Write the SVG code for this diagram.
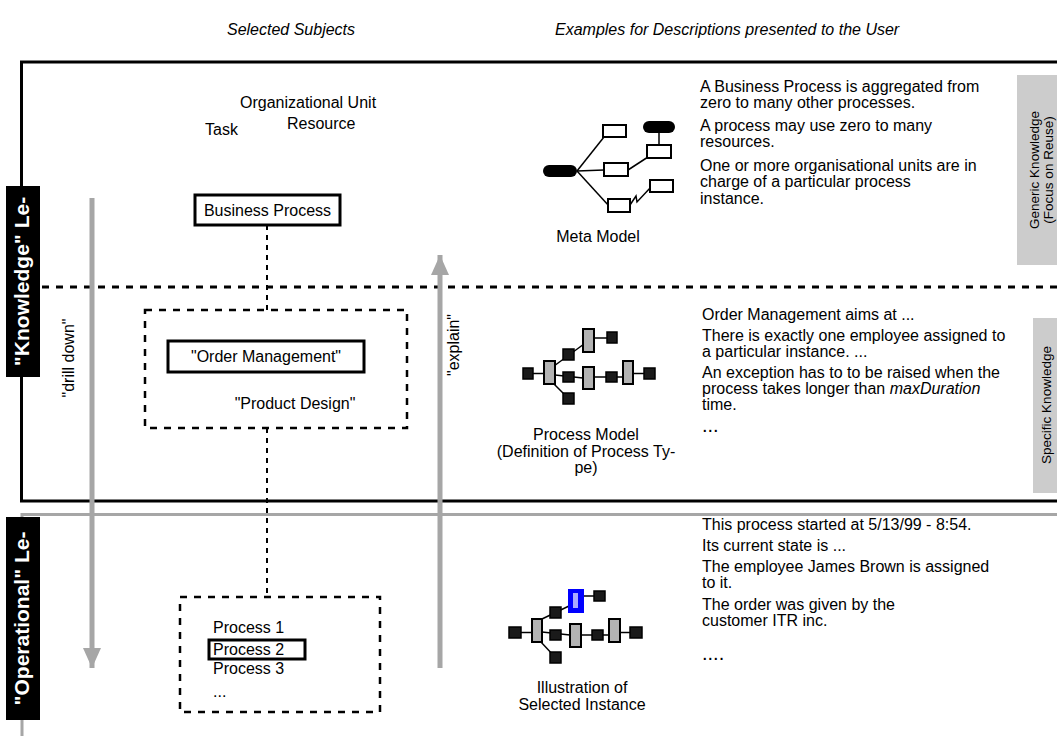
<svg xmlns="http://www.w3.org/2000/svg" width="1057" height="736" viewBox="0 0 1057 736">
  <style>
    .t { font-family: "Liberation Sans", Arial, sans-serif; font-size: 16px; fill: #000; }
    .hdr { font-style: italic; }
    .lbl { font-family: "Liberation Sans", Arial, sans-serif; font-size: 21px; font-weight: bold; fill: #fff; }
    .side { font-family: "Liberation Sans", Arial, sans-serif; font-size: 13.5px; fill: #000; }
    .dots { font-family: "Liberation Sans", Arial, sans-serif; font-size: 20px; fill: #000; }
    .frame { stroke: #000; stroke-width: 3; fill: none; }
    .sep { stroke: #000; stroke-width: 3; stroke-dasharray: 7 7; fill: none; }
    .gline { stroke: #a6a6a6; stroke-width: 3; fill: none; }
    .box { fill: #fff; stroke: #000; stroke-width: 3; }
    .dash { fill: none; stroke: #000; stroke-width: 2.5; stroke-dasharray: 7 7; }
    .conn { stroke: #000; stroke-width: 2; stroke-dasharray: 5 5; fill: none; }
    .garrow { stroke: #a6a6a6; stroke-width: 5; fill: none; marker-end: url(#gh); }
    .mbox { fill: #fff; stroke: #000; stroke-width: 2; }
    .sq { fill: #1a1a1a; stroke: #000; stroke-width: 1.5; }
    .bar { fill: #b3b3b3; stroke: #000; stroke-width: 2; }
    .ln { stroke: #000; stroke-width: 1.5; fill: none; }
    .tab { fill: #cccccc; }
  </style>
  <defs>
    <marker id="gh" viewBox="0 0 20 18" refX="20" refY="9" markerWidth="20" markerHeight="18" markerUnits="userSpaceOnUse" orient="auto">
      <path d="M0,0 L20,9 L0,18 z" fill="#a6a6a6"/>
    </marker>
  </defs>

  <rect width="1057" height="736" fill="#fff"/>

  <!-- column headings -->
  <text class="t hdr" x="291" y="35" text-anchor="middle">Selected Subjects</text>
  <text class="t hdr" x="555" y="35">Examples for Descriptions presented to the User</text>

  <!-- level frame -->
  <g id="frame">
    <polyline class="frame" points="1057,62 21.5,62 21.5,501 1057,501"/>
    <line class="sep" x1="42" y1="287" x2="1057" y2="287"/>
    <polyline class="gline" points="22,736 22,514.5 1057,514.5"/>
  </g>

  <!-- level labels -->
  <g id="label-knowledge">
    <rect x="6" y="186" width="34" height="191" fill="#000"/>
    <text class="lbl" transform="translate(29,281.5) rotate(-90)" text-anchor="middle">"Knowledge" Le-</text>
  </g>
  <g id="label-operational">
    <rect x="6" y="517" width="34" height="203" fill="#000"/>
    <text class="lbl" transform="translate(29,618.5) rotate(-90)" text-anchor="middle">"Operational" Le-</text>
  </g>

  <!-- knowledge categories on the right -->
  <g id="tab-generic">
    <rect class="tab" x="1017" y="75" width="40" height="190"/>
    <text class="side" transform="translate(1039,170) rotate(-90)" text-anchor="middle">Generic Knowledge</text>
    <text class="side" transform="translate(1053,170) rotate(-90)" text-anchor="middle">(Focus on Reuse)</text>
  </g>
  <g id="tab-specific">
    <rect class="tab" x="1033" y="318" width="24" height="175"/>
    <text class="side" transform="translate(1051,405) rotate(-90)" text-anchor="middle">Specific Knowledge</text>
  </g>

  <!-- connectors -->
  <g id="connectors">
    <line class="conn" x1="267" y1="225" x2="267" y2="310"/>
    <line class="conn" x1="267" y1="428" x2="267" y2="597"/>
    <line class="garrow" x1="92" y1="198" x2="92" y2="668"/>
    <line class="garrow" x1="440" y1="668" x2="440" y2="255"/>
    <text class="t" transform="translate(74,358) rotate(-90)" text-anchor="middle">"drill down"</text>
    <text class="t" transform="translate(459,345) rotate(-90)" text-anchor="middle">"explain"</text>
  </g>

  <!-- selected subjects: knowledge level -->
  <g id="generic-subjects">
    <text class="t" x="240" y="108">Organizational Unit</text>
    <text class="t" x="287" y="129">Resource</text>
    <text class="t" x="205" y="135">Task</text>
  </g>
  <g id="business-process">
    <rect class="box" x="195" y="195" width="145" height="30"/>
    <text class="t" x="267.5" y="216" text-anchor="middle">Business Process</text>
  </g>
  <g id="process-types">
    <rect class="dash" x="145" y="310" width="262" height="118"/>
    <rect class="box" x="168" y="341" width="196" height="31"/>
    <text class="t" x="266" y="362" text-anchor="middle">"Order Management"</text>
    <text class="t" x="295" y="409" text-anchor="middle">"Product Design"</text>
  </g>

  <!-- selected subjects: operational level -->
  <g id="process-instances">
    <rect class="dash" x="180" y="597" width="200" height="115"/>
    <text class="t" x="213" y="633">Process 1</text>
    <rect class="box" x="209" y="640" width="96" height="19"/>
    <text class="t" x="213" y="655">Process 2</text>
    <text class="t" x="213" y="674">Process 3</text>
    <text class="t" x="213" y="697">...</text>
  </g>

  <!-- meta model sketch -->
  <g id="meta-model">
    <line class="ln" x1="577" y1="171" x2="604" y2="137"/>
    <line class="ln" x1="577" y1="171" x2="604" y2="170"/>
    <line class="ln" x1="577" y1="171" x2="609" y2="206"/>
    <line class="ln" x1="628" y1="170" x2="648" y2="157"/>
    <line class="ln" x1="659" y1="133" x2="659" y2="145"/>
    <polyline class="ln" points="630,205 636,196 637,202 651,187"/>
    <rect x="543" y="165" width="34" height="12" rx="6" fill="#000"/>
    <rect x="643" y="121" width="32" height="12" rx="6" fill="#000"/>
    <rect class="mbox" x="603" y="125" width="23" height="12"/>
    <rect class="mbox" x="647" y="145" width="24" height="13"/>
    <rect class="mbox" x="604" y="163" width="24" height="13"/>
    <rect class="mbox" x="608" y="199" width="22" height="13"/>
    <rect class="mbox" x="650" y="180" width="23" height="12"/>
    <text class="t" x="598" y="242" text-anchor="middle">Meta Model</text>
  </g>

  <!-- process type sketch -->
  <g id="process-model">
    <line class="ln" x1="533" y1="373.5" x2="544" y2="373.5" stroke-width="2"/>
    <line class="ln" x1="554" y1="366" x2="584" y2="344"/>
    <line class="ln" x1="594" y1="338" x2="607" y2="338" stroke-width="2"/>
    <line class="ln" x1="555" y1="375" x2="583" y2="378"/>
    <line class="ln" x1="553" y1="383" x2="568" y2="398"/>
    <line class="ln" x1="594" y1="377" x2="623" y2="377" stroke-width="2"/>
    <line class="ln" x1="633" y1="373.5" x2="644" y2="373.5" stroke-width="2"/>
    <rect class="sq" x="523" y="368" width="10" height="11"/>
    <rect class="sq" x="607" y="332" width="10" height="11"/>
    <rect class="sq" x="563" y="349" width="11" height="11"/>
    <rect class="sq" x="563" y="372" width="11" height="10"/>
    <rect class="sq" x="563" y="393" width="11" height="11"/>
    <rect class="sq" x="606" y="372" width="11" height="10"/>
    <rect class="sq" x="644" y="368" width="11" height="11"/>
    <rect class="bar" x="544" y="361" width="11" height="23"/>
    <rect class="bar" x="583" y="329" width="11" height="23"/>
    <rect class="bar" x="583" y="367" width="11" height="22"/>
    <rect class="bar" x="623" y="361" width="10" height="23"/>
    <text class="t" x="586" y="440" text-anchor="middle">Process Model</text>
    <text class="t" x="586" y="457" text-anchor="middle">(Definition of Process Ty-</text>
    <text class="t" x="586" y="473" text-anchor="middle">pe)</text>
  </g>

  <!-- instance sketch -->
  <g id="instance-illustration" transform="translate(0,26)">
    <line class="ln" x1="521" y1="606.5" x2="532" y2="606.5" stroke-width="2"/>
    <line class="ln" x1="542" y1="593" x2="569" y2="580"/>
    <line class="ln" x1="584" y1="570" x2="594" y2="570" stroke-width="2"/>
    <line class="ln" x1="542" y1="606" x2="570" y2="609"/>
    <line class="ln" x1="540" y1="615" x2="555" y2="631"/>
    <line class="ln" x1="581" y1="609" x2="609" y2="609" stroke-width="2"/>
    <line class="ln" x1="620" y1="606.5" x2="630" y2="606.5" stroke-width="2"/>
    <rect class="sq" x="509" y="601" width="12" height="11"/>
    <rect class="sq" x="550" y="581" width="11" height="11"/>
    <rect class="sq" x="594" y="565" width="11" height="10"/>
    <rect class="sq" x="550" y="604" width="11" height="10"/>
    <rect class="sq" x="592" y="604" width="11" height="10"/>
    <rect class="sq" x="630" y="601" width="12" height="11"/>
    <rect class="sq" x="550" y="626" width="11" height="11"/>
    <rect class="bar" x="532" y="593" width="10" height="23"/>
    <rect class="bar" x="570" y="598" width="11" height="23"/>
    <rect class="bar" x="609" y="593" width="11" height="23"/>
    <rect x="568" y="563" width="16" height="24" fill="#0000ff"/>
    <rect x="573" y="567" width="5" height="15" fill="#aaaaff"/>
    <text class="t" x="582" y="667" text-anchor="middle">Illustration of</text>
    <text class="t" x="582" y="684" text-anchor="middle">Selected Instance</text>
  </g>

  <!-- descriptions -->
  <g id="text-generic">
    <text class="t" x="700" y="92">A Business Process is aggregated from</text>
    <text class="t" x="700" y="108">zero to many other processes.</text>
    <text class="t" x="700" y="131">A process may use zero to many</text>
    <text class="t" x="700" y="147">resources.</text>
    <text class="t" x="700" y="171">One or more organisational units are in</text>
    <text class="t" x="700" y="187">charge of a particular process</text>
    <text class="t" x="700" y="204">instance.</text>
  </g>
  <g id="text-specific">
    <text class="t" x="702" y="320">Order Management aims at ...</text>
    <text class="t" x="702" y="341">There is exactly one employee assigned to</text>
    <text class="t" x="702" y="357">a particular instance. ...</text>
    <text class="t" x="702" y="378">An exception has to to be raised when the</text>
    <text class="t" x="702" y="394">process takes longer than <tspan font-style="italic">maxDuration</tspan></text>
    <text class="t" x="702" y="410">time.</text>
    <text class="dots" x="702" y="432">...</text>
  </g>
  <g id="text-instance">
    <text class="t" x="702" y="530">This process started at 5/13/99 - 8:54.</text>
    <text class="t" x="702" y="551">Its current state is ...</text>
    <text class="t" x="702" y="572">The employee James Brown is assigned</text>
    <text class="t" x="702" y="588">to it.</text>
    <text class="t" x="702" y="610">The order was given by the</text>
    <text class="t" x="702" y="626">customer ITR inc.</text>
    <text class="dots" x="702" y="660">....</text>
  </g>
</svg>
